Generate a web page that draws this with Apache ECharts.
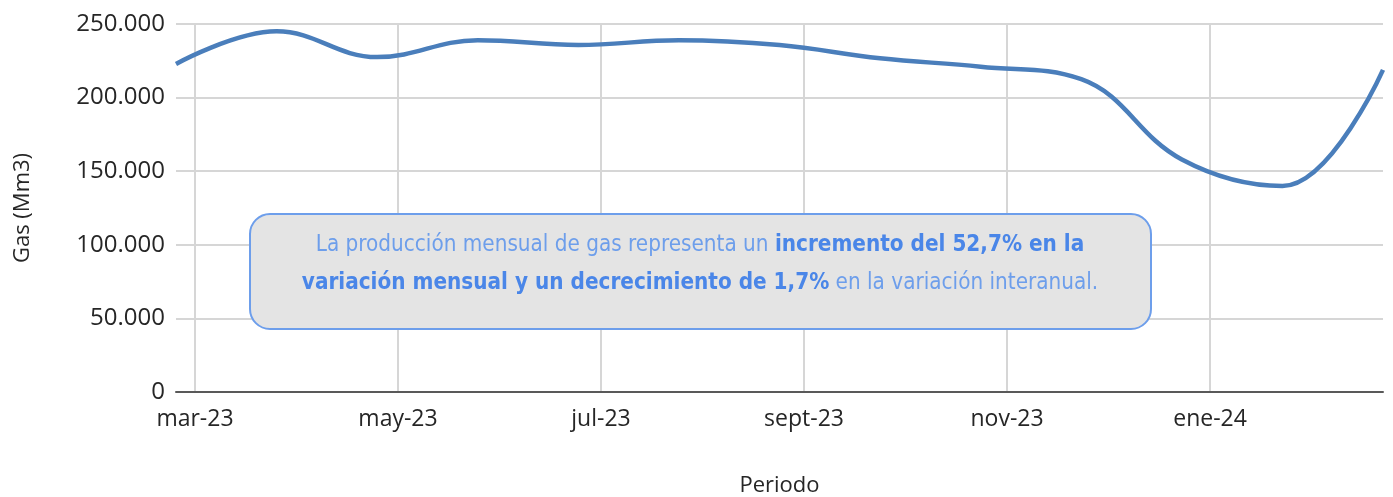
<!DOCTYPE html>
<html>
<head>
<meta charset="UTF-8">
<title>Producción de gas</title>
<style>
  html, body { margin: 0; padding: 0; background: #fff; }
  #container { width: 1393px; height: 497px; }
</style>
</head>
<body>
<div id="container"></div>
<script src="https://cdn.jsdelivr.net/npm/echarts@6/dist/echarts.min.js"></script>
<script>
// meses de la serie (mar-23 a mar-24)
var months = ['mar-23', 'abr-23', 'may-23', 'jun-23', 'jul-23', 'ago-23', 'sept-23',
              'oct-23', 'nov-23', 'dic-23', 'ene-24', 'feb-24', 'mar-24'];
// producción mensual de gas (Mm3)
var gas = [222800, 245000, 227500, 239000, 235700, 239000, 235700,
           226700, 221000, 212500, 158000, 140000, 218800];
// etiquetas del eje x (cada dos meses)
var tickLabels = ['mar-23', 'may-23', 'jul-23', 'sept-23', 'nov-23', 'ene-24'];
var tickValues = [0, 2, 4, 6, 8, 10];

var font = '"Open Sans", "Liberation Sans", sans-serif';
var boxFont = '"DejaVu Sans Condensed", "Liberation Sans Narrow", Roboto, sans-serif';
var myChart = echarts.init(document.getElementById('container'));

myChart.setOption({
    animation: false,
    grid: { left: 176, right: 10, top: 24, bottom: 105, outerBoundsMode: 'none' },
    xAxis: [
        {
            // eje de los datos, oculto
            type: 'category',
            data: months,
            boundaryGap: false,
            show: false
        },
        {
            // eje visible con las etiquetas cada dos meses
            type: 'value',
            position: 'bottom',
            min: -0.187,
            max: 11.704,
            name: 'Periodo',
            nameLocation: 'middle',
            nameGap: 83,
            nameTextStyle: { fontFamily: font, fontSize: 22, color: '#262626' },
            axisLine: { show: true, onZero: false, lineStyle: { color: '#595959', width: 2 } },
            axisTick: { show: false, customValues: tickValues },
            axisLabel: {
                customValues: tickValues,
                margin: 16,
                fontFamily: font,
                fontSize: 23,
                color: '#262626',
                formatter: function (v) { return tickLabels[tickValues.indexOf(v)]; }
            },
            splitLine: { show: true, lineStyle: { color: '#d6d6d6', width: 2 } }
        }
    ],
    yAxis: {
        type: 'value',
        min: 0,
        max: 250000,
        interval: 50000,
        name: 'Gas (Mm3)',
        nameLocation: 'middle',
        nameGap: 142,
        nameTextStyle: { fontFamily: font, fontSize: 22, color: '#262626' },
        axisLine: { show: false },
        axisTick: { show: false },
        axisLabel: {
            margin: 11,
            fontFamily: font,
            fontSize: 24,
            color: '#262626',
            formatter: function (v) { return String(v).replace(/\B(?=(\d{3})+(?!\d))/g, '.'); }
        },
        splitLine: { lineStyle: { color: '#d6d6d6', width: 2 } }
    },
    series: [{
        type: 'line',
        xAxisIndex: 0,
        data: gas,
        smooth: 0.4,
        symbol: 'none',
        lineStyle: { color: '#4a7ebb', width: 4.5 }
    }],
    graphic: [{
        type: 'group',
        left: 249,
        top: 213,
        z: 100,
        children: [
            {
                type: 'rect',
                z: 100,
                shape: { x: 0, y: 0, width: 901, height: 115, r: 20 },
                style: { fill: '#e4e4e4', stroke: '#6d9eeb', lineWidth: 2 }
            },
            {
                type: 'text',
                z: 101,
                x: 450,
                y: 50,
                style: {
                    text: '{n|La producción mensual de gas representa un }{b|incremento del 52,7% en la}\n' +
                          '{b|variación mensual y un decrecimiento de 1,7%}{n| en la variación interanual.}',
                    align: 'center',
                    verticalAlign: 'middle',
                    lineHeight: 38,
                    rich: {
                        n: { align: 'center', fontFamily: boxFont, fontSize: 22.3, fill: '#6d9eeb', lineHeight: 38 },
                        b: { align: 'center', fontFamily: boxFont, fontSize: 22.3, fontWeight: 'bold', fill: '#4a86e8', lineHeight: 38 }
                    }
                }
            }
        ]
    }]
});
</script>
</body>
</html>
